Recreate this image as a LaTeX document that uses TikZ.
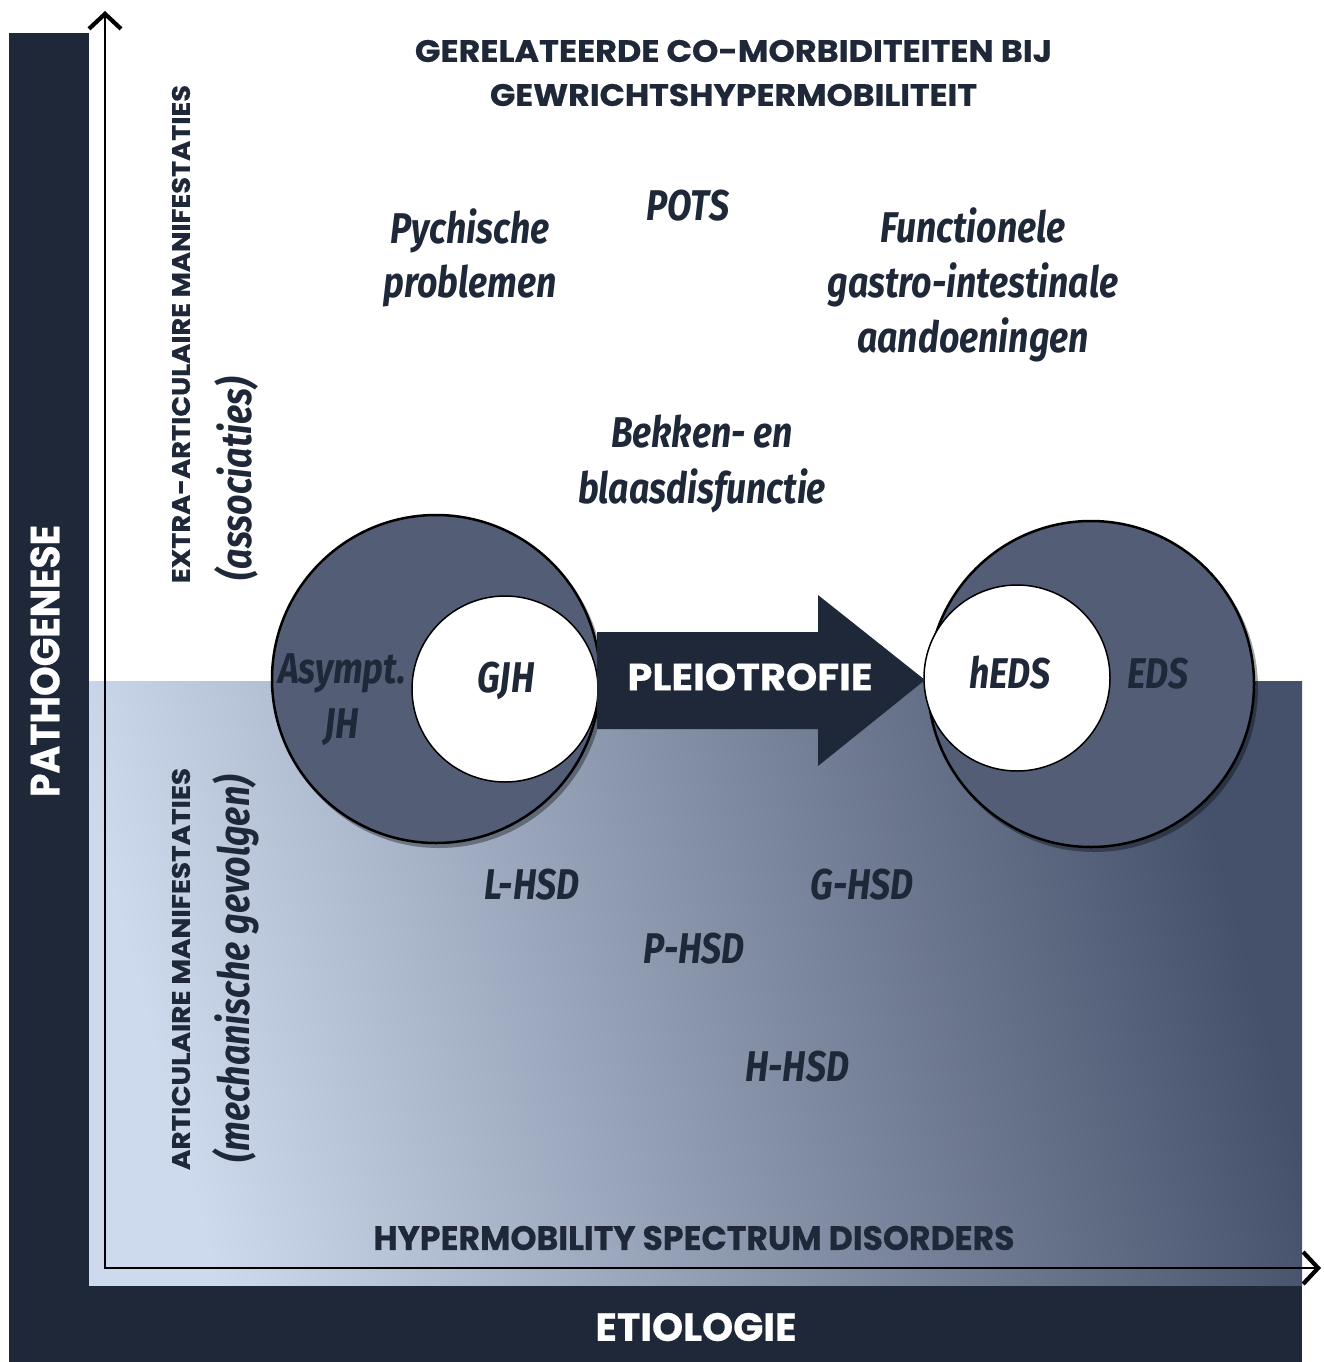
\documentclass[tikz,border=0pt]{standalone}
\usepackage{fontspec}
\usepackage{graphicx}
\usetikzlibrary{arrows.meta,calc}
\setmainfont{Poppins}
\newfontfamily\heavy{Poppins}[BoldFeatures={FakeBold=0.6}]
\newfontfamily\lab{Fira Sans}[FakeStretch=0.83]
\newcommand\fitbox[3]{\resizebox{#1pt}{#2pt}{#3}}
\definecolor{navy}{HTML}{1F2838}
\definecolor{ringfill}{HTML}{535E76}
\definecolor{gA}{HTML}{CDD9EC}
\definecolor{gB}{HTML}{808CA2}
\definecolor{gC}{HTML}{45506A}
\begin{document}
\begin{tikzpicture}[x=1pt,y=-1pt,
  caps/.style={inner sep=0, text=navy, font=\heavy\bfseries},
  capsw/.style={inner sep=0, text=white, font=\heavy\bfseries},
  lbl/.style={inner sep=0, text=navy, font=\lab\bfseries\itshape\fontsize{43}{55}\selectfont, anchor=base},
  rlbl/.style={inner sep=0, text=navy, font=\lab\bfseries\itshape\fontsize{43}{55}\selectfont, rotate=90},
  ring/.style={circle, draw=black, line width=2.5pt, fill=ringfill, inner sep=0},
  ringshadow/.style={circle, fill=black, opacity=0.35, inner sep=0},
  hole/.style={circle, draw=black, line width=1.5pt, fill=white, inner sep=0},
  axis/.style={line width=2.8pt, -{Straight Barb[length=15pt, width=32pt, line width=4.2pt]}}
]
\useasboundingbox (0,0) rectangle (1323,1362);
% dark L-shaped frame
\fill[navy] (9,33) rectangle (89,1362);
\fill[navy] (9,1285) rectangle (1302,1362);
% gradient area
\shade[left color=gA, middle color=gB, right color=gC, shading angle=105] (89,681) rectangle (1302,1285);
% axes
\coordinate (O) at (105,1268);
\coordinate (Ytop) at (105,11);
\coordinate (Xend) at (1321,1268);
\draw[axis] (O) -- (Ytop);
\draw[axis] ($(O)+(-1.4,0)$) -- (Xend);
% title
\node[caps] (t1) at (733.5,51) {\fitbox{637}{22}{GERELATEERDE CO-MORBIDITEITEN BIJ}};
\node[caps] (t2) at (733.5,95) {\fitbox{487}{22}{GEWRICHTSHYPERMOBILITEIT}};
% side labels
\node[capsw, rotate=90] (path) at (45,661) {\fitbox{272}{29}{PATHOGENESE}};
\node[caps, rotate=90] (extra) at (181,334) {\fitbox{498}{18}{EXTRA-ARTICULAIRE MANIFESTATIES}};
\node[rlbl] (assoc) at (236,479) {(associaties)};
\node[caps, rotate=90] (artic) at (181,969) {\fitbox{402}{18}{ARTICULAIRE MANIFESTATIES}};
\node[rlbl] (mech) at (236,969) {(mechanische gevolgen)};
% circle shadows
\node[ringshadow, minimum size=330pt] (shL) at (439,683) {};
\node[ringshadow, minimum size=328pt] (shR) at (1094,688) {};
% circles
\node[ring, minimum size=328pt] (bigL) at (436,679) {};
\node[hole, minimum size=186pt] (smL) at (505,689) {};
\node[ring, minimum size=326pt] (bigR) at (1091,684) {};
\node[hole, minimum size=186pt] (smR) at (1017,678) {};
% pleiotrophy arrow
\coordinate (aTail) at (597,680);
\coordinate (aTip) at (925,680);
\fill[navy] ($(aTail)+(0,-48)$) -- ($(aTip)+(-107,-48)$) -- ($(aTip)+(-107,-85)$) -- (aTip)
  -- ($(aTip)+(-107,86)$) -- ($(aTip)+(-107,49)$) -- ($(aTail)+(0,49)$) -- cycle;
\node[capsw] (pleio) at (750,677) {\fitbox{245}{27}{PLEIOTROFIE}};
% upper labels
\node[lbl] (psy1) at (470,243) {Pychische};
\node[lbl] (psy2) at (470,297) {problemen};
\node[lbl] (pots) at (688,220) {POTS};
\node[lbl] (fg1) at (973,242) {Functionele};
\node[lbl] (fg2) at (973,297) {gastro-intestinale};
\node[lbl] (fg3) at (973,352) {aandoeningen};
\node[lbl] (bb1) at (702,447) {Bekken- en};
\node[lbl] (bb2) at (702,503) {blaasdisfunctie};
% circle labels
\node[lbl] (asy1) at (342,683) {Asympt.};
\node[lbl] (asy2) at (342,738) {JH};
\node[lbl] (gjh) at (506,692) {GJH};
\node[lbl] (heds) at (1010,688) {hEDS};
\node[lbl] (eds) at (1158,688) {EDS};
% HSD labels
\node[lbl] (lhsd) at (532,899) {L-HSD};
\node[lbl] (ghsd) at (862,899) {G-HSD};
\node[lbl] (phsd) at (694,963) {P-HSD};
\node[lbl] (hhsd) at (797,1081) {H-HSD};
% bottom labels
\node[caps] (hsd) at (694,1238) {\fitbox{641}{24}{HYPERMOBILITY SPECTRUM DISORDERS}};
\node[capsw] (etio) at (696,1327) {\fitbox{201}{28}{ETIOLOGIE}};
\end{tikzpicture}
\end{document}
